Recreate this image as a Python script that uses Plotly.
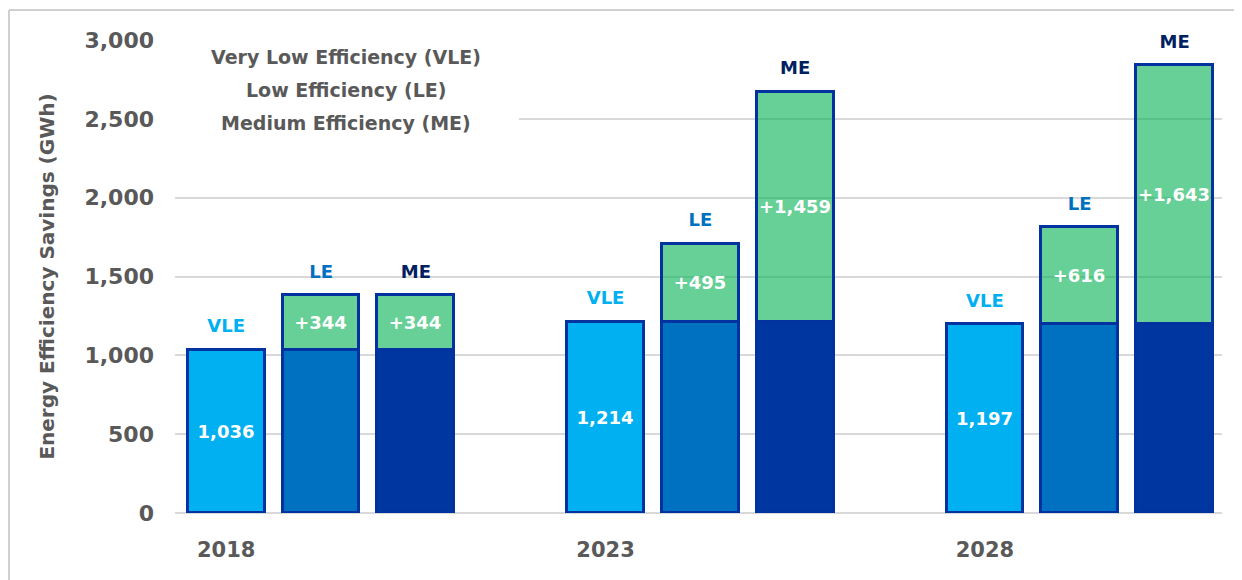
import plotly.graph_objects as go

# ---- data ----
years = ["2018", "2023", "2028"]
levels = ["VLE", "LE", "ME"]
legend_lines = ["Very Low Efficiency (VLE)", "Low Efficiency (LE)", "Medium Efficiency (ME)"]
baseline = [1036, 1214, 1197]          # VLE savings (GWh)
le_increment = [344, 495, 616]         # additional savings for LE
me_increment = [344, 1459, 1643]       # additional savings for ME

# ---- styles ----
FONT = "DejaVu Sans"
GRAY = "#595959"
level_fill = {"VLE": "#00B0F0", "LE": "#0070C0", "ME": "#0036A0"}
level_label = {"VLE": "#00B0F0", "LE": "#0070C0", "ME": "#002060"}
OUTLINE = "#0033A0"
GREEN = "rgba(0,176,80,0.6)"

xs, base_y, inc_y, base_txt, inc_txt, fills, top_y, top_txt, top_col = [], [], [], [], [], [], [], [], []
for g, yr in enumerate(years):
    incs = {"VLE": 0, "LE": le_increment[g], "ME": me_increment[g]}
    for l, lev in enumerate(levels):
        xs.append(g * 4 + l)
        base_y.append(baseline[g])
        inc_y.append(incs[lev])
        base_txt.append(f"{baseline[g]:,}" if lev == "VLE" else "")
        inc_txt.append(f"+{incs[lev]:,}" if incs[lev] else "")
        fills.append(level_fill[lev])
        top_y.append(baseline[g] + incs[lev])
        top_txt.append(lev)
        top_col.append(level_label[lev])

fig = go.Figure()
fig.add_trace(go.Bar(
    x=xs, y=base_y, width=0.81, text=base_txt, textposition="inside", textangle=0,
    insidetextanchor="middle", constraintext="none",
    textfont=dict(family=FONT, size=18, color="white", weight="bold"),
    marker=dict(color=fills, line=dict(color=OUTLINE, width=3)),
    showlegend=False, hoverinfo="skip",
))
fig.add_trace(go.Bar(
    x=xs, y=inc_y, width=0.81, text=inc_txt, textposition="inside", textangle=0,
    insidetextanchor="middle", constraintext="none",
    textfont=dict(family=FONT, size=18, color="white", weight="bold"),
    marker=dict(color=GREEN, line=dict(color=OUTLINE, width=3)),
    showlegend=False, hoverinfo="skip",
))
fig.add_trace(go.Scatter(
    x=xs, y=top_y, mode="markers+text", text=top_txt, textposition="top center",
    textfont=dict(family=FONT, size=18, color=top_col, weight="bold"),
    marker=dict(size=19, opacity=0), cliponaxis=False,
    showlegend=False, hoverinfo="skip",
))

# page is drawn with an 8px body offset; layout in figure pixels
OFF = 8
W, H = 1242 - OFF, 580 - OFF
L, R, T, B = 175 - OFF, 20, 40 - OFF, 67
pw, ph = W - L - R, H - T - B

def px2paper(px, py):
    """page pixel -> paper coords"""
    fx, fy = px - OFF, py - OFF
    return (fx - L) / pw, (H - B - fy) / ph

shapes = []
# outer frame (left + top)
x0, y0 = px2paper(OFF + 1, 10)
x1, y1 = px2paper(1242, 580)
shapes.append(dict(type="line", xref="paper", yref="paper", x0=x0, y0=y0, x1=1.2, y1=y0,
                   line=dict(color="#D0D0D0", width=2)))
shapes.append(dict(type="line", xref="paper", yref="paper", x0=x0, y0=y0, x1=x0, y1=y1,
                   line=dict(color="#D0D0D0", width=2)))
# white box behind legend text
bx0, by0 = px2paper(168, 30)
bx1, by1 = px2paper(519, 140)
shapes.append(dict(type="rect", xref="paper", yref="paper", x0=bx0, y0=by0, x1=bx1, y1=by1,
                   fillcolor="white", line=dict(width=0), layer="above"))

annotations = []
for i, line in enumerate(legend_lines):
    ax, ay = px2paper(346, 57 + 33 * i)
    annotations.append(dict(xref="paper", yref="paper", x=ax, y=ay, text=line, showarrow=False,
                            xanchor="center", yanchor="middle",
                            font=dict(family=FONT, size=19, color=GRAY, weight="bold")))

fig.update_layout(
    width=W, height=H, margin=dict(l=L, r=R, t=T, b=B, autoexpand=False),
    barmode="stack", bargap=0, plot_bgcolor="white", paper_bgcolor="white",
    font=dict(family=FONT, color=GRAY),
    shapes=shapes, annotations=annotations,
    xaxis=dict(range=[-0.54, 10.5], tickvals=[0, 4, 8], ticktext=years,
               showgrid=False, zeroline=False, showline=False, ticks="",
               ticklabelstandoff=22, automargin=False,
               tickfont=dict(family=FONT, size=21, color=GRAY, weight="bold")),
    yaxis=dict(range=[0, 3000], tickvals=[0, 500, 1000, 1500, 2000, 2500, 3000],
               tickformat=",d", showgrid=True, gridcolor="#D9D9D9", gridwidth=2,
               zeroline=True, zerolinecolor="#D9D9D9", zerolinewidth=2,
               showline=False, ticks="", ticklabelstandoff=20, automargin=False,
               tickfont=dict(family=FONT, size=22, color=GRAY, weight="bold"),
               title=dict(text="Energy Efficiency Savings (GWh)", standoff=24,
                          font=dict(family=FONT, size=20, color=GRAY, weight="bold"))),
)

fig.write_html("out.html")
